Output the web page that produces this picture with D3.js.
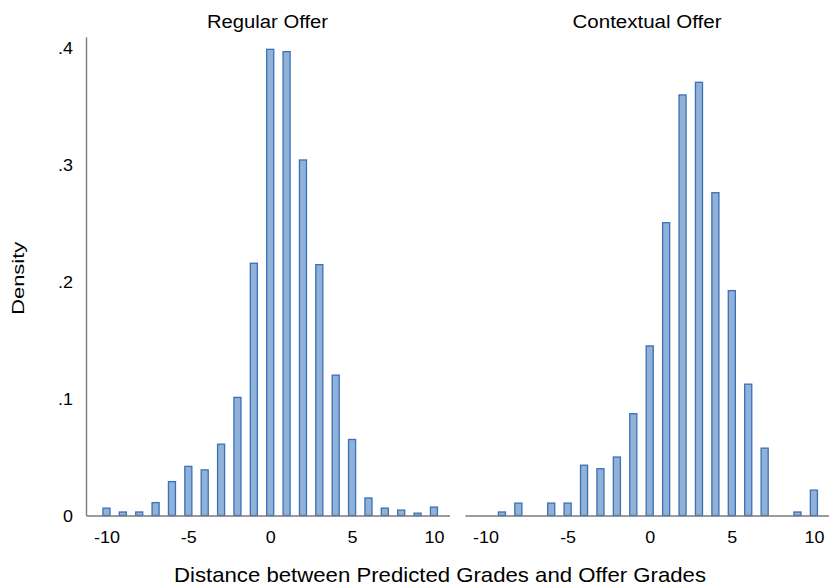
<!DOCTYPE html>
<html>
<head>
<meta charset="utf-8">
<script src="https://cdn.jsdelivr.net/npm/d3@7"></script>
<style>
  body { margin: 0; background: #fff; }
  svg { display: block; font-family: "Liberation Sans", Arial, sans-serif; }
</style>
</head>
<body>
<div id="chart"></div>
<script>
// --- data ---
const grades = [-10, -9, -8, -7, -6, -5, -4, -3, -2, -1, 0, 1, 2, 3, 4, 5, 6, 7, 8, 9, 10];
const regularDensity = [0.0063, 0.003, 0.003, 0.011, 0.029, 0.042, 0.039, 0.061, 0.101, 0.2157, 0.3986,
  0.3966, 0.304, 0.2145, 0.120, 0.065, 0.015, 0.0063, 0.0046, 0.002, 0.0072];
const contextualDensity = [0, 0.003, 0.0106, 0, 0.0106, 0.0106, 0.043, 0.040, 0.050, 0.087, 0.145,
  0.2504, 0.3596, 0.3704, 0.276, 0.1923, 0.1123, 0.0576, 0, 0.003, 0.0217];
const panelTitles = ["Regular Offer", "Contextual Offer"];
const xTicks = [-10, -5, 0, 5, 10];
const yTicks = [0, 0.1, 0.2, 0.3, 0.4];

const width = 829, height = 587;
const fill = "#90b1d8", stroke = "#3a70b7", axisColor = "#7a7a7a";
const stretch = 1.12; // labels in the reference are a bit wider than the font

const svg = d3.select("#chart").append("svg")
  .attr("width", width).attr("height", height);

const y = d3.scaleLinear().domain([0, 0.4094]).range([515.5, 36.7]);

const panels = [
  { title: panelTitles[0], values: regularDensity, range: [86, 449.5], titleX: 267.5, titleLen: 121, yAxis: true },
  { title: panelTitles[1], values: contextualDensity, range: [465, 829.5], titleX: 647, titleLen: 149, yAxis: false }
];

function widen(sel, factor) {
  sel.each(function () {
    const w = this.getComputedTextLength();
    d3.select(this).attr("textLength", w * factor).attr("lengthAdjust", "spacingAndGlyphs");
  });
}

panels.forEach(p => {
  const x = d3.scaleLinear().domain([-11.25, 10.95]).range(p.range);
  const g = svg.append("g");

  // bars
  g.selectAll("rect").data(grades.map((v, i) => ({ v, d: p.values[i] })).filter(e => e.d > 0))
    .join("rect")
    .attr("x", e => x(e.v - 0.215))
    .attr("width", x(0.215) - x(-0.215))
    .attr("y", e => y(e.d))
    .attr("height", e => y(0) - y(e.d))
    .attr("fill", fill)
    .attr("stroke", stroke)
    .attr("stroke-width", 1.3);

  // x axis
  const xa = g.append("g")
    .attr("transform", `translate(0,${y(0)})`)
    .call(d3.axisBottom(x).tickValues(xTicks).tickSize(0).tickSizeOuter(0).tickFormat(d => String(d)));
  xa.select(".domain").attr("stroke", axisColor).attr("stroke-width", 1.4);
  xa.selectAll("text")
    .attr("y", 27).attr("dy", 0)
    .attr("fill", "#000")
    .style("font-size", "16px")
    .style("font-family", "Liberation Sans, Arial, sans-serif");
  widen(xa.selectAll("text"), stretch);

  // y axis only on the left panel
  if (p.yAxis) {
    const ya = g.append("g")
      .attr("transform", `translate(${p.range[0]},0)`)
      .call(d3.axisLeft(y).tickValues(yTicks).tickSize(0).tickSizeOuter(0).tickPadding(13)
        .tickFormat(d => d === 0 ? "0" : d3.format(".1f")(d).replace(/^0/, "")));
    ya.select(".domain").attr("stroke", axisColor).attr("stroke-width", 1.4);
    ya.selectAll("text")
      .attr("dy", "0.35em")
      .attr("fill", "#000")
      .style("font-size", "16px")
      .style("font-family", "Liberation Sans, Arial, sans-serif");
    widen(ya.selectAll("text"), stretch);
  }

  // panel title
  svg.append("text")
    .attr("x", p.titleX).attr("y", 27.7)
    .attr("text-anchor", "middle")
    .style("font-size", "18px")
    .attr("textLength", p.titleLen).attr("lengthAdjust", "spacingAndGlyphs")
    .text(p.title);
});

// axis titles
svg.append("text")
  .attr("x", 440).attr("y", 581.7)
  .attr("text-anchor", "middle")
  .style("font-size", "21px")
  .attr("textLength", 532).attr("lengthAdjust", "spacingAndGlyphs")
  .text("Distance between Predicted Grades and Offer Grades");

svg.append("text")
  .attr("transform", "translate(24,278.3) rotate(-90)")
  .attr("text-anchor", "middle")
  .style("font-size", "17px")
  .attr("textLength", 73).attr("lengthAdjust", "spacingAndGlyphs")
  .text("Density");
</script>
</body>
</html>
